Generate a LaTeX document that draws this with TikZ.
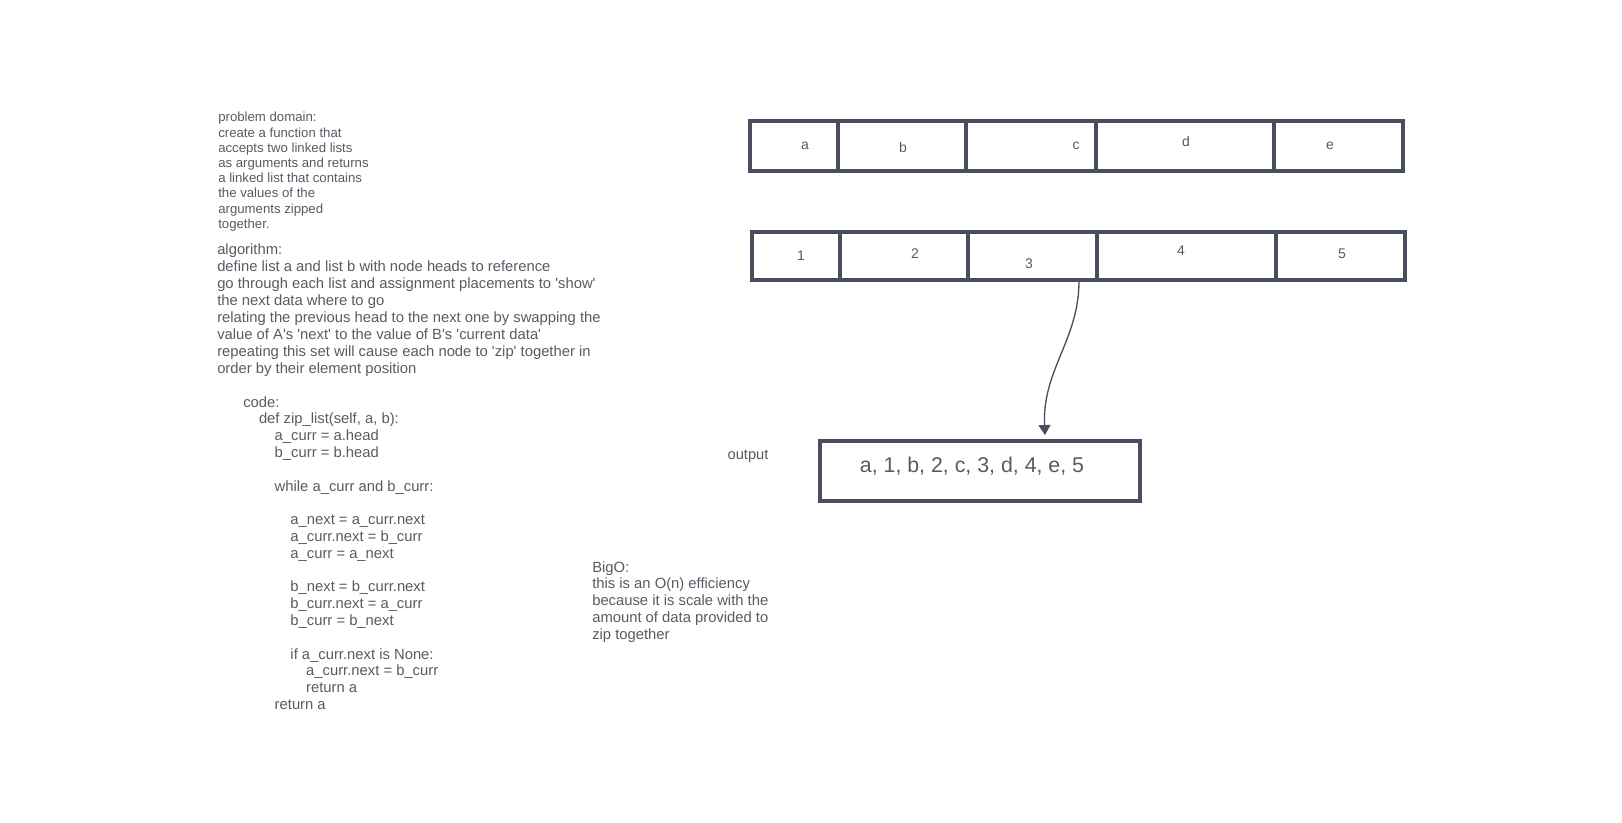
\documentclass[tikz,border=0pt]{standalone}
\usepackage{fontspec}
\setmainfont{Liberation Sans}
\usetikzlibrary{arrows.meta}
\definecolor{inkc}{RGB}{73,79,95}
\definecolor{txtc}{RGB}{88,90,100}
\newcommand{\sq}{\textquotesingle}
\tikzset{
  listbox/.style={draw=inkc,line width=2.3pt,rectangle,inner sep=0pt},
  divider/.style={draw=inkc,line width=2.3pt},
  cell/.style={text=txtc,font=\fontsize{10.5}{12}\selectfont,inner sep=0pt},
  block/.style={text=txtc,align=left,anchor=north west,inner sep=0pt},
  conn/.style={draw=inkc,line width=1pt,-{Triangle[width=9pt,length=7.5pt]}}
}
\begin{document}
\begin{tikzpicture}[x=0.75pt,y=-0.75pt]
\useasboundingbox (0,0) rectangle (1622,822);

% problem domain
\node[block,font=\fontsize{9.9}{11.4}\selectfont] (pd) at (218,112) {problem domain:\\create a function that\\accepts two linked lists\\as arguments and returns\\a linked list that contains\\the values of the\\arguments zipped\\together.};

% algorithm
\node[block,font=\fontsize{11.1}{12.65}\selectfont] (alg) at (217,244) {algorithm:\\define list a and list b with node heads to reference\\go through each list and assignment placements to \sq show\sq\\the next data where to go\\relating the previous head to the next one by swapping the\\value of A\sq s \sq next\sq\ to the value of B\sq s \sq current data\sq\\repeating this set will cause each node to \sq zip\sq\ together in\\order by their element position};

% code
\node[block,font=\fontsize{11.1}{12.6}\selectfont] (code) at (243,396) {code:\\
\hspace*{11.8pt}def zip\_list(self, a, b):\\
\hspace*{23.6pt}a\_curr = a.head\\
\hspace*{23.6pt}b\_curr = b.head\\
\mbox{}\\
\hspace*{23.6pt}while a\_curr and b\_curr:\\
\mbox{}\\
\hspace*{35.4pt}a\_next = a\_curr.next\\
\hspace*{35.4pt}a\_curr.next = b\_curr\\
\hspace*{35.4pt}a\_curr = a\_next\\
\mbox{}\\
\hspace*{35.4pt}b\_next = b\_curr.next\\
\hspace*{35.4pt}b\_curr.next = a\_curr\\
\hspace*{35.4pt}b\_curr = b\_next\\
\mbox{}\\
\hspace*{35.4pt}if a\_curr.next is None:\\
\hspace*{47.2pt}a\_curr.next = b\_curr\\
\hspace*{47.2pt}return a\\
\hspace*{23.6pt}return a};

% BigO
\node[block,font=\fontsize{11.1}{12.6}\selectfont] (bigo) at (592,561) {BigO:\\this is an O(n) efficiency\\because it is scale with the\\amount of data provided to\\zip together};

% list a
\node[listbox,minimum width=489.75pt,minimum height=37.5pt] (la) at (1076.5,146) {};
\foreach \x in {838,966,1096,1274} \draw[divider] (\x,121) -- (\x,171);
\node[cell] (ca) at (805,146) {a};
\node[cell] (cb) at (903,147) {b};
\node[cell] (cc) at (1076,146) {c};
\node[cell] (cd) at (1186,141) {d};
\node[cell] (ce) at (1330,146) {e};

% list b
\node[listbox,minimum width=489.75pt,minimum height=36pt] (lb) at (1078.5,256) {};
\foreach \x in {840,968,1097,1276} \draw[divider] (\x,232) -- (\x,280);
\node[cell] (c1) at (801,256) {1};
\node[cell] (c2) at (915,254) {2};
\node[cell] (c3) at (1029,264) {3};
\node[cell] (c4) at (1181,251) {4};
\node[cell] (c5) at (1342,254) {5};

% output
\node[text=txtc,font=\fontsize{11}{13}\selectfont,inner sep=0pt] (outlbl) at (748,456) {output};
\node[listbox,minimum width=240pt,minimum height=45pt] (out) at (980,471) {};
\node[text=txtc,font=\fontsize{16}{18}\selectfont,inner sep=0pt] (outtxt) at (972,466) {a, 1, b, 2, c, 3, d, 4, e, 5};

% arrow
\coordinate (as) at (1079,281);
\coordinate (at) at (1045,435);
\draw[conn] (as) .. controls (1079,340) and (1042,370) .. (at);
\end{tikzpicture}
\end{document}
